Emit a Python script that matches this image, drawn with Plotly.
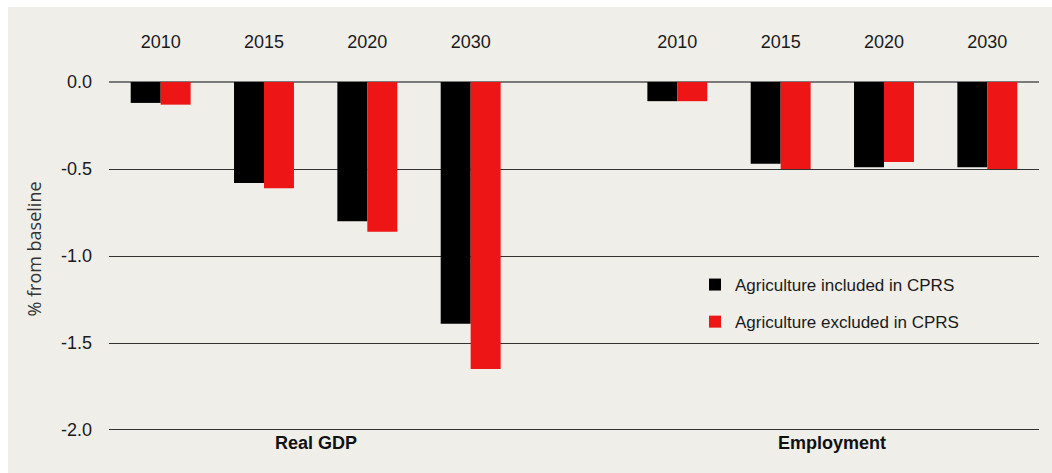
import plotly.graph_objects as go

# Scenario results, % deviation from baseline
years = ["2010", "2015", "2020", "2030"]
groups = ["Real GDP", "Employment"]
series_names = ["Agriculture included in CPRS", "Agriculture excluded in CPRS"]
gdp_included = [-0.12, -0.58, -0.80, -1.39]
gdp_excluded = [-0.13, -0.61, -0.86, -1.65]
emp_included = [-0.11, -0.47, -0.49, -0.49]
emp_excluded = [-0.11, -0.50, -0.46, -0.50]
y_ticks = [0.0, -0.5, -1.0, -1.5, -2.0]

# slot layout: four years, an empty slot, four years
n = len(years)
slots = list(range(n)) + [n + 1 + i for i in range(n)]
group_centers = [(n - 1) / 2, n + 1 + (n - 1) / 2]

included = gdp_included + emp_included
excluded = gdp_excluded + emp_excluded

W, H = 1052, 473
ML, MR, MT, MB = 109, 13, 58, 33
PW, PH = W - ML - MR, H - MT - MB

FONT = "Liberation Sans, Arial, sans-serif"
BG = "#efeee9"
TXT = "#1a1a1a"

fig = go.Figure()
fig.add_trace(go.Bar(x=slots, y=included, name=series_names[0],
                     marker=dict(color="#000000", line=dict(width=0)),
                     legendgroup="a"))
fig.add_trace(go.Bar(x=slots, y=excluded, name=series_names[1],
                     marker=dict(color="#ed1515", line=dict(width=0)),
                     legendgroup="b"))

# panel background
fig.add_shape(type="rect", xref="paper", yref="paper", layer="below",
              x0=(8 - ML) / PW, x1=(W + 5 - ML) / PW,
              y0=(PH + MT - (H + 5)) / PH, y1=(PH + MT - 7) / PH,
              fillcolor=BG, line=dict(width=0))

for g, c in zip(groups, group_centers):
    fig.add_annotation(x=c, xref="x", y=(PH + MT - 443) / PH, yref="paper",
                       text=f"<b>{g}</b>", showarrow=False, yanchor="middle",
                       font=dict(family=FONT, size=18, color="#111111"))

fig.update_layout(
    width=W, height=H,
    margin=dict(l=ML, r=MR, t=MT, b=MB, pad=0),
    paper_bgcolor="white", plot_bgcolor="rgba(0,0,0,0)",
    barmode="group", bargap=0.42, bargroupgap=0,
    font=dict(family=FONT, size=17, color=TXT),
    showlegend=True,
    legend=dict(x=(695 - ML) / PW, xanchor="left", y=(PH + MT - 267) / PH, yanchor="top",
                bgcolor="rgba(0,0,0,0)", font=dict(family=FONT, size=17, color=TXT),
                tracegroupgap=12, itemclick=False),
    xaxis=dict(range=[-0.5, 2 * n + 0.5], side="top", tickmode="array",
               tickvals=slots, ticktext=years + years, showgrid=False, zeroline=False,
               showline=False, ticks="", ticklabelstandoff=5,
               tickfont=dict(family=FONT, size=18, color=TXT)),
    yaxis=dict(range=[-2.0 - 10 / 173.75, 0.0 + 24 / 173.75], tickmode="array",
               tickvals=y_ticks, ticktext=[f"{v:.1f}".replace("\u2212", "-") for v in y_ticks],
               showgrid=True, gridcolor="#333333",
               gridwidth=1, zeroline=True, zerolinecolor="#7a7a7a", zerolinewidth=2,
               showline=False, ticks="", ticklabelstandoff=16,
               tickfont=dict(family=FONT, size=18, color=TXT),
               title=dict(text="% from baseline", standoff=14,
                          font=dict(family="Open Sans, sans-serif", size=18, color="#333333"))),
)

fig.write_html("out.html")
